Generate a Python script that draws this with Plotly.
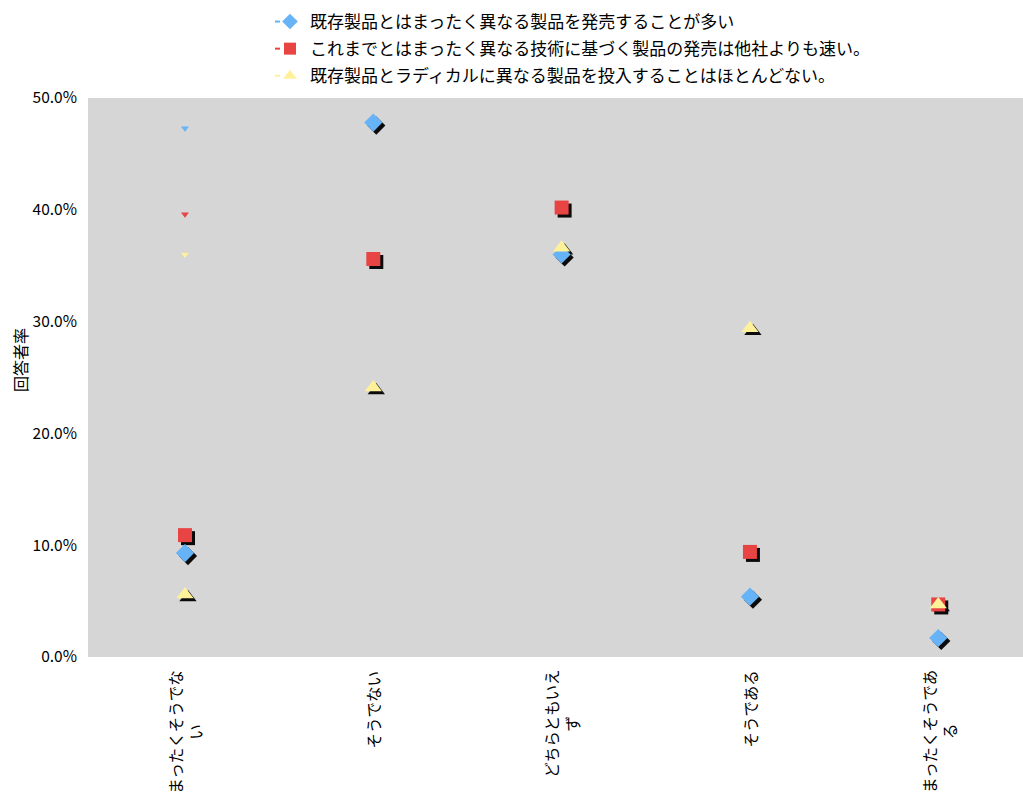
import plotly.graph_objects as go

# Survey answer categories (x axis) and their wrapped display labels
categories = ["まったくそうでない", "そうでない", "どちらともいえず", "そうである", "まったくそうである"]
tick_labels = ["まったくそうでな<br>い", "そうでない", "どちらともいえ<br>ず", "そうである", "まったくそうであ<br>る"]

# Series names
series_names = [
    "既存製品とはまったく異なる製品を発売することが多い",
    "これまでとはまったく異なる技術に基づく製品の発売は他社よりも速い。",
    "既存製品とラディカルに異なる製品を投入することはほとんどない。",
]

# Response rates (%)
values_new_products = [9.3, 47.8, 36.0, 5.4, 1.7]
values_fast_tech = [10.9, 35.6, 40.2, 9.4, 4.7]
values_rarely_radical = [5.6, 24.1, 36.6, 29.4, 4.7]

# Small stray marks drawn at the first category
stray_y = [47.3, 39.6, 36.0]

y_ticks = [0, 10, 20, 30, 40, 50]
y_tick_labels = ["0.0%", "10.0%", "20.0%", "30.0%", "40.0%", "50.0%"]

colors = ["#66B3F7", "#E84444", "#FFF09A"]
symbols = ["diamond", "square", "triangle-up"]
sizes = [14, 14, 15]
series_values = [values_new_products, values_fast_tech, values_rarely_radical]

# Plot area geometry (pixels) used to offset the shadow layer
PLOT_W, PLOT_H = 935, 559
SH_X, SH_Y = 3, 3
X_RANGE = [-0.515, 4.45]
Y_RANGE = [0, 50]

fig = go.Figure()

# Drop shadows on the offset axes (drawn first)
for vals, sym, sz in zip(series_values, symbols, sizes):
    fig.add_trace(go.Scatter(
        x=categories, y=vals, mode="markers", xaxis="x", yaxis="y",
        marker=dict(symbol=sym, size=sz, color="rgba(0,0,0,0.95)", line=dict(width=0)),
        showlegend=False, hoverinfo="skip", cliponaxis=False,
    ))

# Coloured markers
for name, vals, col, sym, sz in zip(series_names, series_values, colors, symbols, sizes):
    fig.add_trace(go.Scatter(
        x=categories, y=vals, mode="markers", xaxis="x2", yaxis="y2",
        marker=dict(symbol=sym, size=sz, color=col, line=dict(width=0)),
        name=name, showlegend=False, cliponaxis=False,
    ))

# Stray marks
fig.add_trace(go.Scatter(
    x=[categories[0]] * len(stray_y), y=stray_y, mode="markers", xaxis="x2", yaxis="y2",
    marker=dict(symbol="triangle-down", size=7, color=colors, line=dict(width=0)),
    showlegend=False, hoverinfo="skip",
))

# Legend entries
for i, (name, col, sym) in enumerate(zip(series_names, colors, symbols)):
    fig.add_trace(go.Scatter(
        x=[None], y=[None], mode="lines+markers", xaxis="x2", yaxis="y2",
        line=dict(color=col, width=2, dash="5px,40px"),
        marker=dict(symbol=sym, size=12, color=col),
        name=name, legendgroup=f"g{i}",
    ))

# Category labels, rotated and centred on each category
for cat, lab in zip(categories, tick_labels):
    fig.add_annotation(
        x=cat, xref="x2", y=-0.02, yref="paper", text=lab, textangle=-90,
        xanchor="center", yanchor="top", align="center", showarrow=False,
        font=dict(size=15.5, color="black"),
    )

# Y axis title
fig.add_annotation(
    x=-(88 - 20) / PLOT_W, xref="paper", y=(657 - 360) / PLOT_H, yref="paper", text="回答者率",
    textangle=-90, xanchor="center", yanchor="middle", showarrow=False,
    font=dict(size=16, color="black"),
)

x_span = X_RANGE[1] - X_RANGE[0]
y_span = Y_RANGE[1] - Y_RANGE[0]

fig.update_layout(
    width=1023, height=794,
    margin=dict(l=88, r=0, t=98, b=137),
    paper_bgcolor="white",
    plot_bgcolor="rgba(0,0,0,0)",
    font=dict(family="Noto Sans CJK JP, Noto Sans, sans-serif", color="black"),
    shapes=[dict(type="rect", xref="paper", yref="paper", x0=0, x1=1, y0=0, y1=1,
                 fillcolor="#D6D6D6", line=dict(width=0), layer="below")],
    xaxis=dict(
        domain=[SH_X / PLOT_W, 1], type="category", categoryarray=categories,
        range=[X_RANGE[0], X_RANGE[0] + x_span * (1 - SH_X / PLOT_W)],
        visible=False, fixedrange=True, anchor="y",
    ),
    yaxis=dict(
        domain=[0, 1 - SH_Y / PLOT_H],
        range=[Y_RANGE[0] + y_span * SH_Y / PLOT_H, Y_RANGE[1]],
        visible=False, fixedrange=True, anchor="x",
    ),
    xaxis2=dict(
        domain=[0, 1], type="category", categoryarray=categories, range=X_RANGE,
        showticklabels=False, showgrid=False, zeroline=False, showline=False,
        anchor="y2",
    ),
    yaxis2=dict(
        domain=[0, 1], range=Y_RANGE, tickvals=y_ticks, ticktext=y_tick_labels,
        showgrid=False, zeroline=False, showline=False, ticks="",
        ticklabelstandoff=10, tickfont=dict(size=15.5, color="black"),
        anchor="x2",
    ),
    legend=dict(
        x=(270 - 88) / PLOT_W, xanchor="left", y=1 + (98 - 4) / PLOT_H, yanchor="top",
        xref="paper", yref="paper",
        font=dict(size=17, color="black"), bgcolor="rgba(0,0,0,0)",
        tracegroupgap=2, itemwidth=30,
    ),
)

fig.write_html("out.html")
